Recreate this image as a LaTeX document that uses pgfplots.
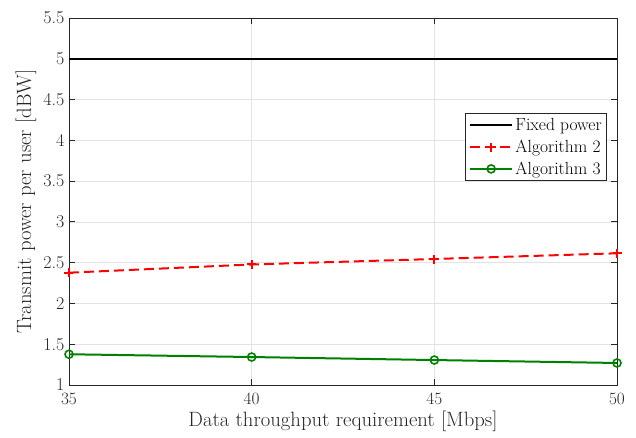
\documentclass[border=0pt]{standalone}
\usepackage{pgfplots}
\pgfplotsset{compat=1.18}
\definecolor{axgray}{gray}{0.15}
\definecolor{mgreen}{rgb}{0,0.5,0}
\begin{document}
\begin{tikzpicture}
\begin{axis}[
  scale only axis,
  width=548pt, height=367pt,
  xmin=35, xmax=50, ymin=1, ymax=5.5,
  xtick={35,40,45,50},
  ytick={1,1.5,2,2.5,3,3.5,4,4.5,5,5.5},
  yticklabels={1,1.5,2,2.5,3,3.5,4,4.5,5,5.5},
  grid=major,
  grid style={gray!22, line width=0.6pt},
  tick align=inside,
  tick style={axgray, line width=0.8pt},
  axis line style={axgray, line width=0.8pt},
  major tick length=6pt,
  xlabel={Data throughput requirement [Mbps]},
  ylabel={Transmit power per user [dBW]},
  every axis y label/.style={at={(axis description cs:-0.0785,0.5)}, rotate=90, anchor=center},
  every axis x label/.style={at={(axis description cs:0.5,-0.1)}, anchor=center},
  ticklabel style={font=\fontsize{18}{20}\selectfont, text=axgray},
  xticklabel style={yshift=-4.5pt},
  yticklabel style={xshift=-1pt},
  label style={font=\fontsize{20.7}{24}\selectfont, text=axgray},
  legend style={at={(0.982,0.741)}, anchor=north east, font=\fontsize{17.5}{20}\selectfont, draw=axgray, line width=0.8pt, inner xsep=3pt, inner ysep=3pt, row sep=4pt},
  legend cell align=left,
  legend image code/.code={\draw[mark repeat=2,mark phase=2] plot coordinates {(0cm,0cm) (0.75cm,0cm) (1.5cm,0cm)};},
]
\addplot[black, line width=2pt] coordinates {(35,5) (40,5) (45,5) (50,5)};
\addlegendentry{Fixed power}
\addplot[red, line width=2pt, dash pattern=on 10pt off 5pt, mark=+, mark size=4.5pt, mark options={solid, line width=2pt}] coordinates {(35,2.377) (40,2.478) (45,2.545) (50,2.615)};
\addlegendentry{Algorithm 2}
\addplot[mgreen, line width=2pt, mark=o, mark size=4pt, mark options={solid, line width=1.6pt}] coordinates {(35,1.377) (40,1.343) (45,1.306) (50,1.27)};
\addlegendentry{Algorithm 3}
\end{axis}
\pgfresetboundingbox
\useasboundingbox (-69pt,-52pt) rectangle (567pt,385pt);
\end{tikzpicture}
\end{document}
